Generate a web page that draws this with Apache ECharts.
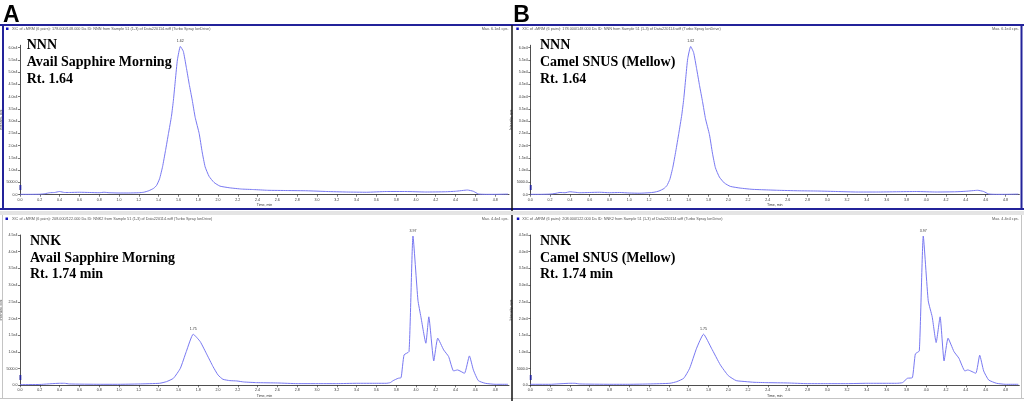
<!DOCTYPE html>
<html><head><meta charset="utf-8">
<script src="https://cdn.jsdelivr.net/npm/echarts@6/dist/echarts.min.js"></script>
<style>html,body{margin:0;padding:0;background:#fff}#c{width:1024px;height:401px}</style>
</head><body><div id="c"></div>
<script>
// ---------- DATA ----------
// NNN, panel A (Avail Sapphire Morning)
const nnnATime = [0.00,0.10,0.20,0.25,0.30,0.35,0.40,0.45,0.50,0.60,0.70,0.80,0.85,0.90,1.00,1.10,1.20,1.25,1.30,1.35,1.38,1.41,1.44,1.47,1.50,1.53,1.55,1.57,1.59,1.62,1.65,1.68,1.71,1.74,1.77,1.81,1.84,1.87,1.91,1.96,2.02,2.12,2.24,2.36,2.50,2.70,2.90,3.10,3.30,3.50,3.70,3.90,4.10,4.30,4.40,4.52,4.58,4.63,4.70,4.80,4.93];
const nnnAInt  = [150,150,200,400,800,900,1300,900,900,1000,900,800,1000,800,700,700,800,1000,1600,2600,3800,6500,11400,18000,25000,32000,38600,47000,55000,60500,58500,52000,45000,38600,31500,25000,17500,11400,7500,5000,3500,2800,2300,2100,1800,1700,1600,1300,1100,1000,1300,1300,1100,1200,1400,1900,1400,300,150,150,250];
// NNN, panel B (Camel SNUS (Mellow))
const nnnBTime = [0.00,0.10,0.20,0.25,0.30,0.35,0.40,0.45,0.50,0.60,0.70,0.80,0.90,1.00,1.10,1.20,1.25,1.30,1.35,1.38,1.41,1.44,1.47,1.50,1.53,1.55,1.57,1.59,1.62,1.65,1.68,1.71,1.74,1.77,1.81,1.84,1.87,1.91,1.96,2.02,2.12,2.24,2.36,2.50,2.70,2.90,3.10,3.30,3.50,3.70,3.90,4.10,4.30,4.40,4.52,4.58,4.63,4.70,4.80,4.93];
const nnnBInt  = [150,150,250,500,900,800,1200,1000,800,900,1000,800,900,700,600,800,1000,1500,2500,3700,6300,11200,17800,25000,32500,39000,47500,55500,60500,58000,51500,44500,38000,31000,24500,17000,11000,7200,4800,3400,2700,2200,2000,1800,1600,1500,1300,1100,1100,1200,1300,1100,1200,1400,1800,1300,300,150,150,250];
// NNK, panel A
const nnkATime = [0.00,0.20,0.40,0.45,0.50,0.80,1.00,1.20,1.41,1.48,1.55,1.62,1.68,1.75,1.82,1.89,1.95,2.00,2.05,2.12,2.19,2.26,2.39,2.60,2.80,3.00,3.20,3.40,3.60,3.70,3.74,3.77,3.82,3.85,3.88,3.93,3.97,4.02,4.05,4.10,4.13,4.18,4.22,4.28,4.33,4.38,4.42,4.49,4.54,4.58,4.63,4.70,4.80,4.93];
const nnkAInt  = [200,250,600,600,400,300,300,400,600,1100,2100,5100,10100,15300,13100,9100,5600,3100,1800,1400,1300,1000,800,700,500,500,500,600,600,600,800,1400,2100,2300,9100,10100,44700,25500,20500,12600,20500,7300,14100,10600,8600,4300,4600,3600,8800,4600,1400,600,300,300];
// NNK, panel B
const nnkBTime = [0.00,0.20,0.40,0.45,0.50,0.80,1.00,1.20,1.41,1.48,1.55,1.61,1.68,1.75,1.83,1.92,2.00,2.08,2.18,2.26,2.39,2.60,2.80,3.00,3.20,3.40,3.60,3.70,3.76,3.81,3.86,3.89,3.93,3.97,4.02,4.06,4.10,4.14,4.18,4.22,4.28,4.33,4.39,4.42,4.50,4.54,4.58,4.63,4.71,4.80,4.93];
const nnkBInt  = [300,300,600,600,400,300,300,400,600,1100,2100,5100,11100,15300,11100,6100,2900,1400,1100,900,800,700,500,500,500,600,600,600,800,2100,2300,9400,10300,44700,25300,20500,12800,20500,7300,14100,10100,8100,4300,4600,3600,9000,4300,1600,600,300,300];
// labelled peak apexes (retention times)
const peakLabelsNNNA = [1.62];
const peakLabelsNNNB = [1.62];
const peakLabelsNNKA = [1.75, 3.97];
const peakLabelsNNKB = [1.75, 3.97];
// axes
const xMin = 0, xMax = 4.94, xStep = 0.2;
const nnnYMax = 61000, nnkYMax = 45000, yStep = 5000;
// texts
const panelLetters = ['A', 'B'];
const productsAB = ['Avail Sapphire Morning', 'Camel SNUS (Mellow)'];
const nnnNote = ['NNN', 'Rt. 1.64'];
const nnkNote = ['NNK', 'Rt. 1.74 min'];
const headerNNN = 'XIC of +MRM (6 pairs): 178.000/148.000 Da ID: NNN from Sample 51 (1-3) of Data220114.wiff (Turbo Spray IonDrive)';
const headerNNK = 'XIC of +MRM (6 pairs): 208.000/122.000 Da ID: NNK2 from Sample 51 (1-3) of Data220114.wiff (Turbo Spray IonDrive)';
const maxNNN = 'Max. 6.1e4 cps.';
const maxNNK = 'Max. 4.4e4 cps.';
const xName = 'Time, min';
const yName = 'Intensity, cps';

// ---------- CHART ----------
const chart = echarts.init(document.getElementById('c'));
const SMALL = 3.6;
const FONT = '"Liberation Sans", Arial, sans-serif';
const LINE = '#7878f2';
const BLUE = '#23239a';

const grids = [
  {left: 20, top: 45.25, width: 489, height: 149.45},
  {left: 530.3, top: 45.25, width: 489, height: 149.45},
  {left: 20, top: 235, width: 489, height: 150.3},
  {left: 530.3, top: 235, width: 489, height: 150.3}
].map(g => Object.assign(g, {containLabel: false, outerBoundsMode: 'none'}));

function yFmt(v){ if (v === 0) return '0.0'; if (v < 10000) return v.toFixed(1); return (v/10000).toFixed(1) + 'e4'; }

const xAxes = grids.map((g, i) => ({
  type: 'value', gridIndex: i, min: xMin, max: xMax, interval: xStep,
  axisLine: {lineStyle: {color: '#222', width: 0.8}},
  axisTick: {length: 2, lineStyle: {color: '#222', width: 0.6}},
  axisLabel: {fontSize: SMALL, color: '#333', margin: 3, fontFamily: FONT, showMaxLabel: false, formatter: v => v.toFixed(1)},
  splitLine: {show: false},
  name: xName, nameLocation: 'middle', nameGap: 8.5,
  nameTextStyle: {fontSize: SMALL, color: '#333', fontFamily: FONT}
}));
const yAxes = grids.map((g, i) => ({
  type: 'value', gridIndex: i, min: 0, max: i < 2 ? nnnYMax : nnkYMax, interval: yStep,
  axisLine: {show: true, lineStyle: {color: '#222', width: 0.8}},
  axisTick: {show: true, length: 2, lineStyle: {color: '#222', width: 0.6}},
  axisLabel: {fontSize: SMALL, color: '#333', margin: 2.5, fontFamily: FONT, showMaxLabel: i >= 2, formatter: yFmt},
  splitLine: {show: false},
  name: yName, nameLocation: 'middle', nameGap: 14, nameRotate: 90,
  nameTextStyle: {fontSize: SMALL, color: '#333', fontFamily: FONT}
}));

function mkSeries(times, ints, peaks, idx){
  const data = times.map((t, k) => [t, ints[k]]);
  const mp = peaks.map(p => {
    const k = times.indexOf(p);
    return {coord: [times[k], ints[k]], value: p.toFixed(2)};
  });
  return {
    type: 'line', xAxisIndex: idx, yAxisIndex: idx, data,
    showSymbol: false, smooth: 0.15, clip: false,
    lineStyle: {color: LINE, width: 1}, animation: false,
    markPoint: {symbol: 'circle', symbolSize: 0.1, data: mp, animation: false,
      label: {show: true, position: 'top', distance: 3, fontSize: SMALL, color: '#333', fontFamily: FONT, formatter: '{c}'}}
  };
}

const series = [
  mkSeries(nnnATime, nnnAInt, peakLabelsNNNA, 0),
  mkSeries(nnnBTime, nnnBInt, peakLabelsNNNB, 1),
  mkSeries(nnkATime, nnkAInt, peakLabelsNNKA, 2),
  mkSeries(nnkBTime, nnkBInt, peakLabelsNNKB, 3)
];

const graphic = [];
function line(x1,y1,x2,y2,c,w){ graphic.push({type:'line', silent:true, z: 50, shape:{x1,y1,x2,y2}, style:{stroke:c, lineWidth:w}}); }
function rect(x,y,w,h,c){ graphic.push({type:'rect', silent:true, z: 60, shape:{x,y,width:w,height:h}, style:{fill:c}}); }
function text(x,y,t,font,fill,align,extra){ graphic.push({type:'text', silent:true, z: 60, x, y, style:Object.assign({text:t, font, fill, align: align||'left', verticalAlign:'middle'}, extra||{})}); }

// frames
line(0, 25, 1024, 25, BLUE, 2);
line(3, 25, 3, 209, BLUE, 2);
line(1021.5, 25, 1021.5, 209, BLUE, 2);
line(0, 209, 1024, 209, BLUE, 2);
rect(0, 211, 1024, 4, '#e4e4e4');
line(0, 211.5, 1024, 211.5, '#b4b4b4', 1);
line(0, 214.5, 1024, 214.5, '#c8c8c8', 1);
line(2.5, 215, 2.5, 399, '#c4c4c4', 1);
line(0, 398.5, 1024, 398.5, '#c4c4c4', 1);
line(1021.5, 215, 1021.5, 399, '#c4c4c4', 1);
line(512, 25, 512, 401, '#111', 1.5);

[0, 1].forEach(p => {
  const ox = p * 510.3;
  // big letter
  text(3 + ox, 15.5, panelLetters[p], 'bold 23px "Liberation Sans", Arial, sans-serif', '#000');
  // headers
  rect(6 + ox, 27.5, 2.5, 2.5, '#1010c0');
  text(12 + ox, 29, headerNNN, '3.8px ' + FONT, '#555');
  text(508.5 + ox, 29, maxNNN, '3.8px ' + FONT, '#555', 'right');
  rect(5.5 + ox + (p ? 1 : 0), 217.5, 2.5, 2.5, '#1010c0');
  text(12 + ox, 219, headerNNK, '3.8px ' + FONT, '#555');
  text(508.5 + ox, 218.5, maxNNK, '3.8px ' + FONT, '#555', 'right');
  // threshold markers on y axes
  rect(19.5 + ox, 185, 1.8, 5, BLUE);
  rect(19.5 + ox, 375, 1.8, 5, BLUE);
  // annotations
  const serif = 'bold 14px "Liberation Serif", "Times New Roman", serif';
  const ax = (p ? 540 : 26.7);
  const bx = (p ? 540 : 30);
  [nnnNote[0], productsAB[p], nnnNote[1]].forEach((s, k) => text(ax, 45 + k * 17.2, s, serif, '#000'));
  [nnkNote[0], productsAB[p], nnkNote[1]].forEach((s, k) => text(bx, 241.5 + k * 16.5, s, serif, '#000'));
});

chart.setOption({
  animation: false,
  backgroundColor: '#fff',
  grid: grids,
  xAxis: xAxes,
  yAxis: yAxes,
  series,
  graphic
});
</script>
</body></html>
